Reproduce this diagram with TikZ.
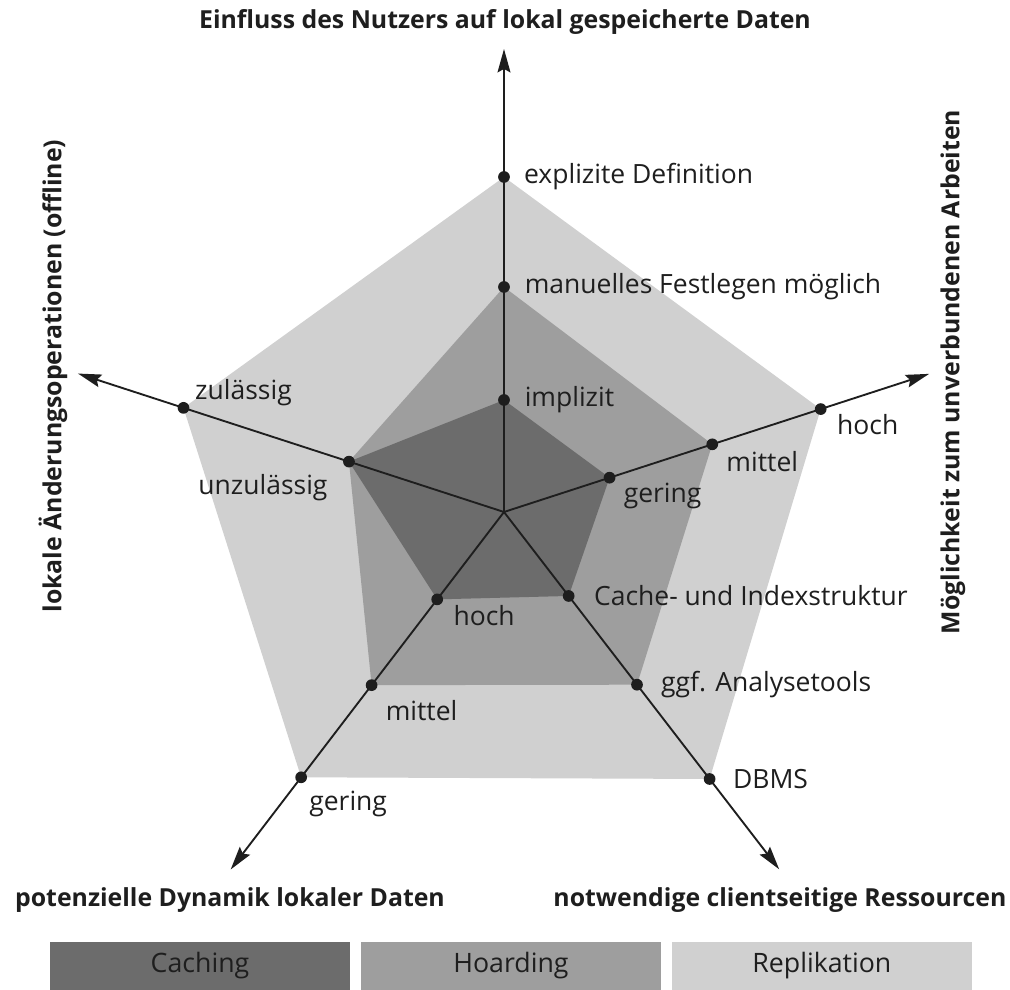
\documentclass[tikz,border=0pt]{standalone}
\usepackage{fontspec}
\setmainfont{Open Sans}
\usepackage{xcolor}
\definecolor{caching}{HTML}{6C6C6C}
\definecolor{hoarding}{HTML}{9E9E9E}
\definecolor{replikation}{HTML}{D0D0D0}
\definecolor{ink}{HTML}{1E1E1E}
\usetikzlibrary{arrows.meta, positioning, calc}

\begin{document}
\begin{tikzpicture}[x=1.5cm, y=1.5cm,
  dot/.style={circle, fill=ink, inner sep=0pt, minimum size=5pt},
  lbl/.style={font=\fontsize{11.3}{13}\selectfont, text=ink, inner sep=0pt},
  axtitle/.style={font=\fontsize{10.6}{12}\selectfont\bfseries, text=ink, inner sep=0pt},
  axis/.style={-{Stealth[length=10pt, width=5.5pt, inset=1.5pt]}, line width=0.8pt, ink},
  legendbox/.style={minimum width=4.5cm, minimum height=0.72cm, inner sep=0pt,
    font=\fontsize{11.4}{13}\selectfont, text=ink}
]
  \useasboundingbox (-5.04,-4.78) rectangle (5.06,5.12);

  % Skalenpunkte je Achse
  \coordinate (o) at (0,0);
  \coordinate (e1) at (90:1.12);
  \coordinate (e2) at (90:2.25);
  \coordinate (e3) at (90:3.35);
  \coordinate (a1) at (18:1.11);
  \coordinate (a2) at (18:2.19);
  \coordinate (a3) at (18:3.33);
  \coordinate (r1) at (307.6:1.06);
  \coordinate (r2) at (307.6:2.18);
  \coordinate (r3) at (307.6:3.37);
  \coordinate (d1) at (232.6:1.10);
  \coordinate (d2) at (232.6:2.18);
  \coordinate (d3) at (232.6:3.34);
  \coordinate (u1) at (162:1.63);
  \coordinate (u2) at (162:3.37);

  % Flaechen
  \fill[replikation] (e3) -- (a3) -- (r3) -- (d3) -- (u2) -- cycle;
  \fill[hoarding] (e2) -- (a2) -- (r2) -- (d2) -- (u1) -- cycle;
  \fill[caching] (e1) -- (a1) -- (r1) -- (d1) -- (u1) -- cycle;

  % Achsen
  \coordinate (eEnd) at (90:4.63);
  \coordinate (aEnd) at (18:4.47);
  \coordinate (rEnd) at (307.6:4.51);
  \coordinate (dEnd) at (232.6:4.50);
  \coordinate (uEnd) at (162:4.48);
  \foreach \ax in {e,a,r,d,u}
    \draw[axis] (o) -- (\ax End);

  \foreach \p in {e1,e2,e3,a1,a2,a3,r1,r2,r3,d1,d2,d3,u1,u2}
    \node[dot] (p\p) at (\p) {};

  % Beschriftungen
  \node[lbl, right=0.2cm of pe3] (te3) {explizite Definition};
  \node[lbl, right=0.21cm of pe2] (te2) {manuelles Festlegen möglich};
  \node[lbl, right=0.21cm of pe1] (te1) {implizit};
  \node[lbl] (ta3) at ($(pa3)+(0.47,-0.15)$) {hoch};
  \node[lbl] (ta2) at ($(pa2)+(0.50,-0.17)$) {mittel};
  \node[lbl] (ta1) at ($(pa1)+(0.53,-0.18)$) {gering};
  \node[lbl, right=0.28cm of pr1] (tr1) {Cache- und Indexstruktur};
  \node[lbl, right=0.26cm of pr2] (tr2) {ggf. Analysetools};
  \node[lbl, right=0.25cm of pr3] (tr3) {DBMS};
  \node[lbl] (td1) at ($(pd1)+(0.47,-0.16)$) {hoch};
  \node[lbl] (td2) at ($(pd2)+(0.50,-0.25)$) {mittel};
  \node[lbl] (td3) at ($(pd3)+(0.47,-0.27)$) {gering};
  \node[lbl] (tu2) at ($(pu2)+(0.60,0.15)$) {zulässig};
  \node[lbl] (tu1) at ($(pu1)+(-0.86,-0.26)$) {unzulässig};

  % Achsentitel
  \node[axtitle] (tEinfluss) at (0.01,4.90) {Einfluss des Nutzers auf lokal gespeicherte Daten};
  \node[axtitle, rotate=90] (tAenderung) at (-4.51,1.36) {lokale Änderungsoperationen (offline)};
  \node[axtitle, rotate=90] (tArbeiten) at (4.49,1.40) {Möglichkeit zum unverbundenen Arbeiten};
  \node[axtitle] (tDynamik) at (-2.74,-3.88) {potenzielle Dynamik lokaler Daten};
  \node[axtitle] (tRessourcen) at (2.76,-3.88) {notwendige clientseitige Ressourcen};

  % Legende
  \node[legendbox, fill=caching] (lCaching) at (-3.04,-4.54) {Caching};
  \node[legendbox, fill=hoarding, right=0.15cm of lCaching] (lHoarding) {Hoarding};
  \node[legendbox, fill=replikation, right=0.15cm of lHoarding] (lReplikation) {Replikation};
\end{tikzpicture}
\end{document}
